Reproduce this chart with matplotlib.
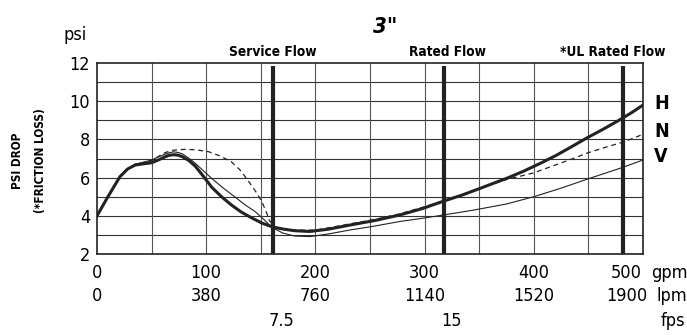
import numpy as np
import matplotlib
matplotlib.use('Agg')
import matplotlib.pyplot as plt
import matplotlib.transforms as mtransforms

plt.rcParams['font.family'] = ['DejaVu Sans']
plt.rcParams['font.stretch'] = 'condensed'

# flow markers (gpm)
service_flow = 161
rated_flow = 318
ul_flow = 482

gpm_ticks = [0, 100, 200, 300, 400, 500]
lpm_labels = ['0', '380', '760', '1140', '1520', '1900']
fps_pos = [169, 325]
fps_labels = ['7.5', '15']

# H curve (thick solid)
h_gpm = [0, 10, 21, 28, 35, 42, 50, 56, 62, 66, 70, 74, 78, 84, 90, 97, 105, 114, 123, 132, 142, 151, 161, 171, 181, 195, 212, 232, 255, 277, 298, 318, 335, 350, 362, 375, 390, 406, 420, 434, 448, 464, 480, 490, 500]
h_psi = [4.0, 5.0, 6.05, 6.45, 6.66, 6.72, 6.78, 6.92, 7.08, 7.17, 7.2, 7.18, 7.1, 6.9, 6.6, 6.1, 5.5, 5.0, 4.57, 4.2, 3.88, 3.62, 3.41, 3.3, 3.22, 3.18, 3.3, 3.52, 3.76, 4.04, 4.38, 4.78, 5.1, 5.42, 5.68, 5.96, 6.32, 6.75, 7.15, 7.6, 8.06, 8.55, 9.07, 9.42, 9.8]

# N curve (dashed)
n_gpm = [0, 10, 21, 28, 35, 42, 50, 56, 62, 68, 74, 81, 90, 102, 112, 123, 131, 138, 145, 151, 155, 158, 162, 168, 181, 200, 232, 255, 277, 298, 318, 335, 351, 363, 375, 388, 400, 412, 424, 436, 448, 464, 480, 490, 500]
n_psi = [4.0, 5.0, 6.05, 6.45, 6.7, 6.78, 6.88, 7.1, 7.3, 7.42, 7.46, 7.48, 7.46, 7.36, 7.15, 6.83, 6.4, 5.87, 5.3, 4.74, 4.2, 3.75, 3.45, 3.33, 3.25, 3.25, 3.58, 3.82, 4.1, 4.44, 4.8, 5.12, 5.45, 5.68, 5.9, 6.08, 6.25, 6.5, 6.75, 7.0, 7.27, 7.56, 7.83, 8.04, 8.27]

# V curve (thin solid)
v_gpm = [0, 10, 21, 28, 35, 42, 50, 56, 62, 66, 70, 74, 78, 84, 90, 97, 105, 115, 126, 135, 145, 152, 158, 164, 170, 181, 195, 212, 232, 255, 277, 298, 318, 345, 375, 400, 425, 451, 479, 500]
v_psi = [4.0, 5.0, 6.05, 6.45, 6.7, 6.8, 6.92, 7.08, 7.22, 7.3, 7.35, 7.32, 7.25, 7.02, 6.75, 6.38, 5.96, 5.48, 5.0, 4.6, 4.21, 3.85, 3.52, 3.28, 3.1, 2.94, 2.91, 3.05, 3.26, 3.47, 3.7, 3.87, 4.05, 4.3, 4.62, 5.0, 5.45, 5.96, 6.49, 6.92]

fig = plt.figure(figsize=(6.87, 3.35), dpi=100)
ax = fig.add_axes([0.1412, 0.2418, 0.7948, 0.570])

ax.set_xlim(0, 500)
ax.set_ylim(2, 12)
for yv in range(3, 12):
    ax.axhline(yv, color='#333333', lw=0.8, zorder=1)
for xv in range(50, 500, 50):
    ax.axvline(xv, color='#555555', lw=0.8, zorder=1)

for xv in [service_flow, rated_flow, ul_flow]:
    ax.plot([xv, xv], [2, 11.85], color='#222222', lw=3.0, solid_capstyle='butt', zorder=4)

ax.plot(v_gpm, v_psi, color='#222222', lw=0.8, zorder=3)
ax.plot(n_gpm, n_psi, color='#222222', lw=0.9, ls=(0, (4, 3)), zorder=3)
ax.plot(h_gpm, h_psi, color='#222222', lw=2.2, zorder=3, solid_joinstyle='round')

for s in ax.spines.values():
    s.set_linewidth(1.2)
    s.set_color('#222222')

ax.set_yticks([2, 4, 6, 8, 10, 12])
ax.set_yticklabels(['2', '4', '6', '8', '10', '12'], fontsize=13)
ax.tick_params(axis='y', length=0, pad=5)
ax.set_xticks([])

trans = mtransforms.blended_transform_factory(ax.transData, ax.transAxes)
for xv, lp in zip(gpm_ticks, lpm_labels):
    lab_x = xv if xv < 500 else 485
    ax.text(lab_x, -0.055, str(xv), transform=trans, ha='center', va='top', fontsize=13)
    ax.text(lab_x, -0.175, lp, transform=trans, ha='center', va='top', fontsize=13)
for xv, lab in zip(fps_pos, fps_labels):
    ax.text(xv, -0.305, lab, transform=trans, ha='center', va='top', fontsize=13)
ax.text(1.015, -0.055, 'gpm', transform=ax.transAxes, ha='left', va='top', fontsize=13)
ax.text(1.025, -0.175, 'lpm', transform=ax.transAxes, ha='left', va='top', fontsize=13)
ax.text(1.032, -0.305, 'fps', transform=ax.transAxes, ha='left', va='top', fontsize=13)

ax.text(service_flow, 12.2, 'Service Flow', ha='center', va='bottom', fontsize=9.8, fontweight='bold')
ax.text(rated_flow + 3, 12.2, 'Rated Flow', ha='center', va='bottom', fontsize=9.8, fontweight='bold')
ax.text(ul_flow - 10, 12.2, '*UL Rated Flow', ha='center', va='bottom', fontsize=9.8, fontweight='bold')

fig.text(0.56, 0.918, '3"', ha='center', va='center', fontsize=16, fontweight='bold', style='italic')
fig.text(0.110, 0.895, 'psi', ha='center', va='center', fontsize=13)

for lab, yv in [('H', 9.9), ('N', 8.4), ('V', 7.1)]:
    ax.text(1.02, yv, lab, transform=mtransforms.blended_transform_factory(ax.transAxes, ax.transData),
            ha='left', va='center', fontsize=14, fontweight='bold')

fig.text(0.025, 0.52, 'PSI DROP', rotation=90, ha='center', va='center', fontsize=8.5, fontweight='bold')
fig.text(0.059, 0.52, '(*FRICTION LOSS)', rotation=90, ha='center', va='center', fontsize=8.5, fontweight='bold')

fig.savefig('out.png', dpi=100)
